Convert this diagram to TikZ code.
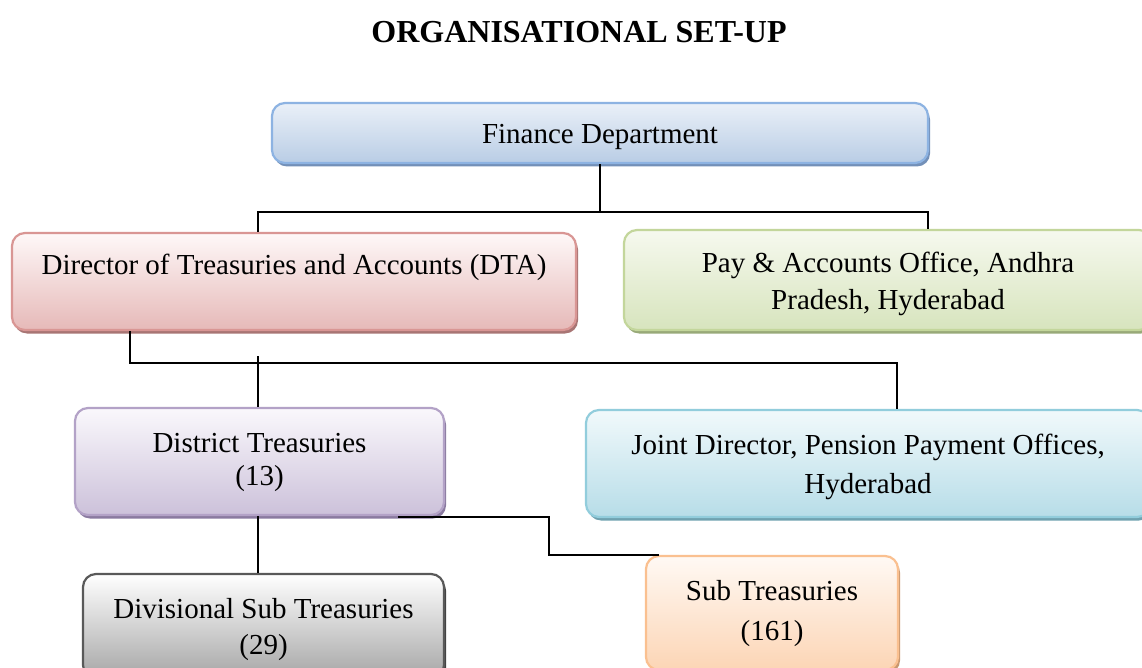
\documentclass[tikz,border=0pt]{standalone}
\usepackage{fontspec}
\setmainfont{Liberation Serif}
\usetikzlibrary{shadows}

% box palettes: T = top of gradient, B = bottom, D = border, S = shadow
\definecolor{finT}{HTML}{EAF0F8}\definecolor{finB}{HTML}{B9CDE5}\definecolor{finD}{HTML}{8DB3E2}\definecolor{finS}{HTML}{7390B8}
\definecolor{dtaT}{HTML}{FEF8F8}\definecolor{dtaB}{HTML}{E6B9B8}\definecolor{dtaD}{HTML}{D99694}\definecolor{dtaS}{HTML}{A87574}
\definecolor{paoT}{HTML}{F6F9EF}\definecolor{paoB}{HTML}{D7E4BD}\definecolor{paoD}{HTML}{C3D69B}\definecolor{paoS}{HTML}{98A978}
\definecolor{dtrT}{HTML}{FAF8FC}\definecolor{dtrB}{HTML}{CCC1DA}\definecolor{dtrD}{HTML}{B3A2C7}\definecolor{dtrS}{HTML}{8A7AA0}
\definecolor{jdT}{HTML}{F1F9FB}\definecolor{jdB}{HTML}{B7DDE8}\definecolor{jdD}{HTML}{92CDDC}\definecolor{jdS}{HTML}{6FA2B0}
\definecolor{divT}{HTML}{FFFFFF}\definecolor{divB}{HTML}{A6A6A6}\definecolor{divD}{HTML}{595959}\definecolor{divS}{HTML}{404040}
\definecolor{subT}{HTML}{FFF9F4}\definecolor{subB}{HTML}{FCD5B5}\definecolor{subD}{HTML}{FAC090}\definecolor{subS}{HTML}{C8976F}

% text block lowered by #1 without changing its size, lines 37pt apart
\newcommand{\boxtext}[2]{\raisebox{-#1}[\height][\depth]{\begin{tabular}{@{}c@{}}#2\end{tabular}}}

\tikzset{
  orgbox/.style={rectangle, rounded corners=13pt, line width=2.2pt, inner sep=0pt,
    align=center, font=\fontsize{29}{37}\selectfont},
  palette/.style={orgbox, draw=#1D, top color=#1T, bottom color=#1B,
    drop shadow={shadow xshift=2pt, shadow yshift=-3.5pt, fill=#1S, opacity=1}},
  link/.style={line width=1.6pt, black},
}

\begin{document}
\begin{tikzpicture}[x=1pt, y=-1pt]
  \useasboundingbox (0,0) rectangle (1142,668);
  \clip (0,0) rectangle (1142,668);
  \fill[white] (0,0) rectangle (1142,668);

  \node (title) at (579,32) {\fontsize{32}{38}\selectfont\bfseries ORGANISATIONAL SET-UP};

  % junction points of the connectors
  \coordinate (busA) at (258,212);
  \coordinate (busB) at (928,212);
  \coordinate (busC) at (130,363);
  \coordinate (busD) at (897,363);
  \coordinate (tick) at (258,356);
  \coordinate (stA)  at (398,517);
  \coordinate (stB)  at (549,517);
  \coordinate (stC)  at (549,555);

  % boxes
  \node[palette=fin, minimum width=656pt, minimum height=60pt] (fin) at (600,133)
    {\boxtext{3pt}{Finance Department}};
  \node[palette=dta, minimum width=564pt, minimum height=97pt] (dta) at (294,281.5)
    {\boxtext{4pt}{Director of Treasuries and Accounts (DTA)\\ \strut}};
  \node[palette=pao, minimum width=528pt, minimum height=100pt] (pao) at (888,280)
    {\boxtext{4pt}{Pay \& Accounts Office, Andhra\\Pradesh, Hyderabad}};
  \node[palette=dtr, minimum width=369pt, minimum height=107pt] (dtr) at (259.5,461.5)
    {\boxtext{0pt}{District Treasuries\\[-4pt](13)}};
  \node[palette=jd, minimum width=564pt, minimum height=107pt] (jd) at (868,463.5)
    {\boxtext{3pt}{Joint Director, Pension Payment Offices,\\[2pt]Hyderabad}};
  \node[palette=div, minimum width=361pt, minimum height=104pt] (div) at (263.5,626)
    {\boxtext{3pt}{Divisional Sub Treasuries\\[-1pt](29)}};
  \node[palette=sub, minimum width=252pt, minimum height=114pt] (sub) at (772,613)
    {\boxtext{0pt}{Sub Treasuries\\[3pt](161)}};

  % connectors
  \draw[link] (fin.south) -- (fin.south |- busA);
  \draw[link] (dta.north -| busA) -- (busA) -- (busB) -- (pao.north -| busB);
  \draw[link] (dta.south -| busC) -- (busC) -- (busD) -- (jd.north -| busD);
  \draw[link] (tick) -- (dtr.north -| tick);
  \draw[link] (dtr.south -| tick) -- (div.north -| tick);
  \draw[link] (stA) -- (stB) -- (stC) -- ([xshift=14pt]sub.north west |- stC);
\end{tikzpicture}
\end{document}
